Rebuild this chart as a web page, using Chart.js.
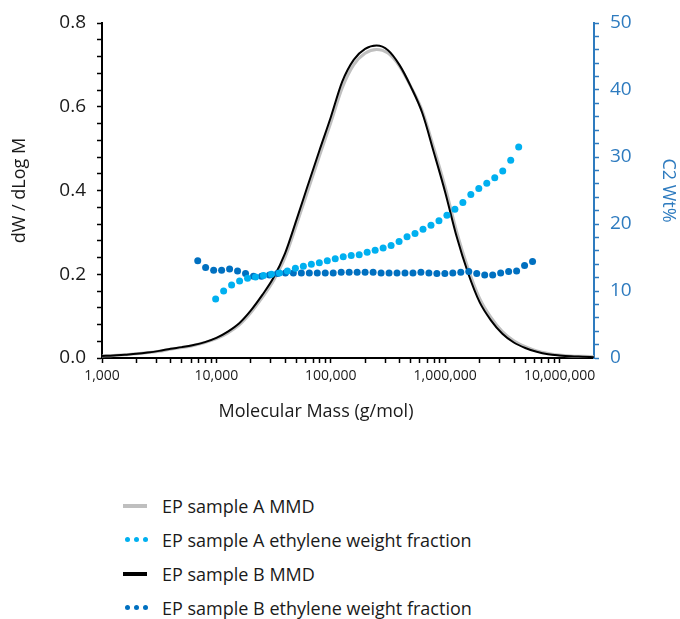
<!DOCTYPE html>
<html>
<head>
<meta charset="utf-8">
<script src="https://cdn.jsdelivr.net/npm/chart.js@4.4.0/dist/chart.umd.min.js"></script>
<style>
  body { margin: 0; background: #fff; font-family: 'Open Sans', sans-serif; color: #1a1a1a; }
  #wrap { position: relative; width: 680px; height: 619px; }
  #chart-box { position: absolute; left: 0; top: 0; width: 680px; height: 440px; }
  #x-title { position: absolute; left: 0; top: 398px; width: 632px; text-align: center; font-size: 18px; line-height: 24px; }
  #legend { position: absolute; left: 123px; top: 493px; }
  .item { position: relative; height: 34px; font-size: 18px; line-height: 26px; padding-left: 39px; white-space: nowrap; }
  .bar { position: absolute; left: 0; top: 11px; width: 24px; height: 4px; }
  .dot { position: absolute; top: 10px; width: 5px; height: 5px; border-radius: 50%; }
</style>
</head>
<body>
<div id="wrap">
  <div id="chart-box"><canvas id="chart"></canvas></div>
  <div id="x-title">Molecular Mass (g/mol)</div>
  <div id="legend">
    <div class="item"><span class="bar" style="background:#bfbfbf"></span>EP sample A MMD</div>
    <div class="item"><span class="dot" style="left:2px;background:#00b0f0"></span><span class="dot" style="left:11px;background:#00b0f0"></span><span class="dot" style="left:20px;background:#00b0f0"></span>EP sample A ethylene weight fraction</div>
    <div class="item"><span class="bar" style="background:#000"></span>EP sample B MMD</div>
    <div class="item"><span class="dot" style="left:2px;background:#0070c0"></span><span class="dot" style="left:11px;background:#0070c0"></span><span class="dot" style="left:20px;background:#0070c0"></span>EP sample B ethylene weight fraction</div>
  </div>
</div>
<script>
// axis ticks
const xMajorTicks = [1000, 10000, 100000, 1000000, 10000000];
const leftTicks = [0, 0.2, 0.4, 0.6, 0.8];
const rightTicks = [0, 10, 20, 30, 40, 50];

// molecular mass distribution (dW/dLogM)
const mmdMass = [1000, 1259, 1585, 1995, 2512, 3162, 3981, 5012, 6310, 7943,
  10000, 12590, 15850, 19950, 25120, 31620, 39810, 50120, 63100, 79430,
  100000, 125900, 158500, 199500, 251200, 316200, 398100, 501200, 631000, 794300,
  1000000, 1259000, 1585000, 1995000, 2512000, 3162000, 3981000, 5012000, 6310000, 7943000,
  10000000, 12590000, 15850000, 19950000];
const mmdA = [0.005, 0.006, 0.008, 0.010, 0.013, 0.016, 0.021, 0.025, 0.030, 0.037,
  0.046, 0.060, 0.079, 0.108, 0.144, 0.185, 0.240, 0.318, 0.400, 0.482,
  0.562, 0.645, 0.700, 0.728, 0.737, 0.728, 0.697, 0.648, 0.590, 0.502,
  0.408, 0.302, 0.214, 0.143, 0.097, 0.063, 0.041, 0.027, 0.017, 0.011,
  0.007, 0.005, 0.004, 0.003];
const mmdB = [0.005, 0.006, 0.008, 0.010, 0.013, 0.017, 0.022, 0.026, 0.031, 0.038,
  0.048, 0.063, 0.083, 0.113, 0.150, 0.192, 0.250, 0.330, 0.413, 0.495,
  0.575, 0.660, 0.712, 0.738, 0.746, 0.735, 0.700, 0.648, 0.585, 0.492,
  0.396, 0.290, 0.203, 0.134, 0.090, 0.058, 0.037, 0.024, 0.015, 0.009,
  0.006, 0.004, 0.003, 0.002];

// ethylene weight fraction (C2 wt%)
const c2MassA = [9850, 11570, 13580, 15950, 18720, 21980, 25810, 30300, 35580, 41770, 49040, 57580,
  67620, 79400, 93220, 109400, 128500, 150900, 177200, 208000, 244200, 286800, 336700,
  395400, 464200, 545000, 640000, 751400, 882200, 1036000, 1216000, 1428000, 1676000,
  1968000, 2311000, 2713000, 3186000, 3741000, 4392000];
const c2A = [8.8, 10.0, 10.9, 11.5, 11.9, 12.1, 12.3, 12.5, 12.7, 13.0, 13.4, 13.7,
  14.0, 14.2, 14.5, 14.8, 15.1, 15.3, 15.4, 15.8, 16.1, 16.4, 16.8,
  17.4, 18.1, 18.6, 19.2, 19.8, 20.5, 21.3, 22.2, 23.2, 24.4,
  25.3, 26.1, 26.9, 27.9, 29.5, 31.5];
const c2MassB = [6870, 8050, 9460, 11110, 13040, 15310, 17980, 21100, 24780, 29090, 34160, 40100,
  47080, 55280, 64900, 76200, 89460, 105000, 123300, 144800, 170000, 199600, 234400,
  275200, 323100, 379300, 445300, 522800, 613800, 720700, 846100, 993400, 1166000,
  1369000, 1608000, 1888000, 2216000, 2602000, 3055000, 3587000, 4211000, 4944000, 5805000];
const c2B = [14.5, 13.5, 13.1, 13.1, 13.3, 13.0, 12.6, 12.2, 12.2, 12.4, 12.6, 12.7,
  12.7, 12.7, 12.7, 12.7, 12.7, 12.7, 12.8, 12.8, 12.8, 12.8, 12.8,
  12.7, 12.7, 12.7, 12.7, 12.7, 12.8, 12.7, 12.6, 12.6, 12.7,
  12.8, 12.9, 12.6, 12.4, 12.4, 12.7, 12.9, 13.0, 13.8, 14.4];

const pairs = (xs, ys) => xs.map((x, i) => ({ x: x, y: ys[i] }));

const rightColor = '#2e7bbf';

// major ticks plus minor ticks in between
function withMinors(majors, parts) {
  const out = [];
  majors.forEach((m, i) => {
    out.push({ value: m });
    if (i < majors.length - 1) {
      const step = (majors[i + 1] - m) / parts;
      for (let k = 1; k < parts; k++) out.push({ value: m + k * step });
    }
  });
  return out;
}

function logTicks() {
  const out = [];
  xMajorTicks.forEach((m, i) => {
    out.push({ value: m });
    if (i < xMajorTicks.length - 1) {
      for (let k = 2; k <= 9; k++) out.push({ value: m * k });
    }
  });
  return out;
}

const isMajor = (list, v) => list.some(t => Math.abs(t - v) < 1e-6);

const ctx = document.getElementById('chart');
new Chart(ctx, {
  type: 'scatter',
  data: {
    datasets: [{
      label: 'EP sample A ethylene weight fraction',
      data: pairs(c2MassA, c2A),
      yAxisID: 'y2',
      backgroundColor: '#00b0f0',
      borderWidth: 0,
      pointRadius: 3.5,
      order: 1
    }, {
      label: 'EP sample B ethylene weight fraction',
      data: pairs(c2MassB, c2B),
      yAxisID: 'y2',
      backgroundColor: '#0070c0',
      borderWidth: 0,
      pointRadius: 3.5,
      order: 2
    }, {
      label: 'EP sample B MMD',
      data: pairs(mmdMass, mmdB),
      yAxisID: 'y',
      showLine: true,
      borderColor: '#000',
      borderWidth: 2,
      pointRadius: 0,
      cubicInterpolationMode: 'monotone',
      order: 3
    }, {
      label: 'EP sample A MMD',
      data: pairs(mmdMass, mmdA),
      yAxisID: 'y',
      showLine: true,
      borderColor: '#bfbfbf',
      borderWidth: 3,
      pointRadius: 0,
      cubicInterpolationMode: 'monotone',
      order: 4
    }]
  },
  options: {
    responsive: true,
    maintainAspectRatio: false,
    animation: false,
    layout: { padding: { top: 23, left: 0, right: 0, bottom: 0 } },
    plugins: {
      legend: { display: false },
      tooltip: { enabled: false }
    },
    scales: {
      x: {
        type: 'logarithmic',
        min: 1000,
        max: 20000000,
        afterBuildTicks: scale => { scale.ticks = logTicks(); },
        afterFit: scale => { scale.height = 82; },
        border: { display: true, color: '#000', width: 2 },
        grid: { drawOnChartArea: false, drawTicks: true, tickLength: 5, tickWidth: 1.5, tickColor: '#000' },
        ticks: {
          autoSkip: false,
          maxRotation: 0,
          padding: 5,
          color: '#1a1a1a',
          font: { family: 'Open Sans', size: 14 },
          callback: v => isMajor(xMajorTicks, v) ? v.toLocaleString('en-US') : ''
        }
      },
      y: {
        position: 'left',
        min: 0,
        max: 0.8,
        afterBuildTicks: scale => { scale.ticks = withMinors(leftTicks, 5); },
        afterFit: scale => { scale.width = 102; },
        border: { display: true, color: '#000', width: 2 },
        grid: { drawOnChartArea: false, drawTicks: true, tickLength: 5, tickWidth: 1.5, tickColor: '#000' },
        title: {
          display: true,
          text: 'dW / dLog M',
          color: '#1a1a1a',
          padding: { top: 9, bottom: 0 },
          font: { family: 'Open Sans', size: 18 }
        },
        ticks: {
          autoSkip: false,
          padding: 11,
          color: '#1a1a1a',
          font: { family: 'Open Sans', size: 19 },
          callback: v => isMajor(leftTicks, v) ? v.toFixed(1) : ''
        }
      },
      y2: {
        position: 'right',
        min: 0,
        max: 50,
        afterBuildTicks: scale => { scale.ticks = withMinors(rightTicks, 5); },
        afterFit: scale => { scale.width = 86; },
        border: { display: true, color: rightColor, width: 2 },
        grid: { drawOnChartArea: false, drawTicks: true, tickLength: 5, tickWidth: 1.5, tickColor: rightColor },
        title: {
          display: true,
          text: 'C2 Wt%',
          color: rightColor,
          padding: { top: 1, bottom: 0 },
          font: { family: 'Open Sans', size: 18 }
        },
        ticks: {
          autoSkip: false,
          padding: 11,
          color: rightColor,
          font: { family: 'Open Sans', size: 19 },
          callback: v => isMajor(rightTicks, v) ? String(v) : ''
        }
      }
    }
  }
});
</script>
</body>
</html>
